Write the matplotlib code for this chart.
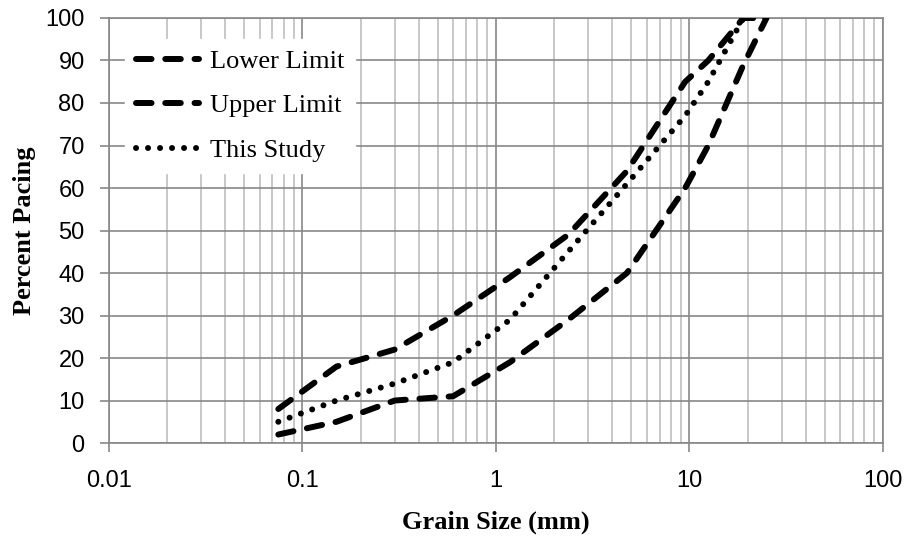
import numpy as np
from matplotlib import pyplot as plt
from matplotlib.ticker import LogLocator, FixedLocator, NullFormatter

# sieve sizes (mm) and percent passing
sizes = [0.075, 0.15, 0.3, 0.6, 1.18, 2.36, 4.75, 9.5, 12.5, 19, 25]
lower = [2, 5, 10, 11, 19, 29, 40, 60, 70, 89, 100]
upper = [8, 18, 22, 30, 39, 49, 64, 85, 90, 100, 100]
study = [5, 10, 14, 19, 29, 45, 61, 77, 85, 100, 100]

x_ticks = [0.01, 0.1, 1, 10, 100]
x_labels = ['0.01', '0.1', '1', '10', '100']
y_ticks = np.arange(0, 101, 10)

serif = 'Liberation Serif'
sans = 'Liberation Sans'

fig = plt.figure(figsize=(9.05, 5.37), dpi=100)
ax = fig.add_axes([0.1204, 0.175, 0.8553, 0.7915])

lw = 4.3
dash = (0, (2.6, 2.3))
ax.plot(sizes, lower, color='black', lw=lw, linestyle=dash,
        dash_capstyle='round', label='Lower Limit', zorder=3)
ax.plot(sizes, upper, color='black', lw=lw, linestyle=dash,
        dash_capstyle='round', label='Upper Limit', zorder=3)
ax.plot(sizes, study, color='black', lw=lw, linestyle=(0, (0.01, 2.0)),
        dash_capstyle='round', label='This Study', zorder=3)

ax.set_xscale('log')
ax.set_xlim(0.01, 100)
ax.set_ylim(0, 100)
ax.xaxis.set_major_locator(FixedLocator(x_ticks))
ax.set_xticklabels(x_labels)
ax.xaxis.set_minor_locator(LogLocator(base=10, subs=np.arange(2, 10)))
ax.xaxis.set_minor_formatter(NullFormatter())
ax.set_yticks(y_ticks)

ax.grid(which='major', color='#888888', lw=1.2, zorder=0)
ax.grid(which='minor', axis='x', color='#bfbfbf', lw=1.2, zorder=0)
ax.set_axisbelow(True)

for s in ax.spines.values():
    s.set_color('#888888')
    s.set_linewidth(1.2)
ax.tick_params(which='major', length=6.5, color='#888888', width=1.2,
               labelsize=17)
ax.tick_params(which='minor', length=0)
ax.tick_params(axis='y', pad=11)
ax.tick_params(axis='x', pad=13)
for t in ax.get_xticklabels() + ax.get_yticklabels():
    t.set_fontfamily(sans)

ax.set_xlabel('Grain Size (mm)', fontfamily=serif, fontweight='bold',
              fontsize=19, labelpad=13)
ax.set_ylabel('Percent Pacing', fontfamily=serif, fontweight='bold',
              fontsize=19, labelpad=7)

leg = ax.legend(loc='upper left', bbox_to_anchor=(0.021, 0.951),
                borderaxespad=0,
                prop={'family': serif, 'size': 19}, frameon=True,
                fancybox=False, edgecolor='white', facecolor='white',
                framealpha=1, handlelength=2.4, labelspacing=0.8,
                borderpad=0.4, handletextpad=0.4)

fig.savefig('out.png', dpi=100)
